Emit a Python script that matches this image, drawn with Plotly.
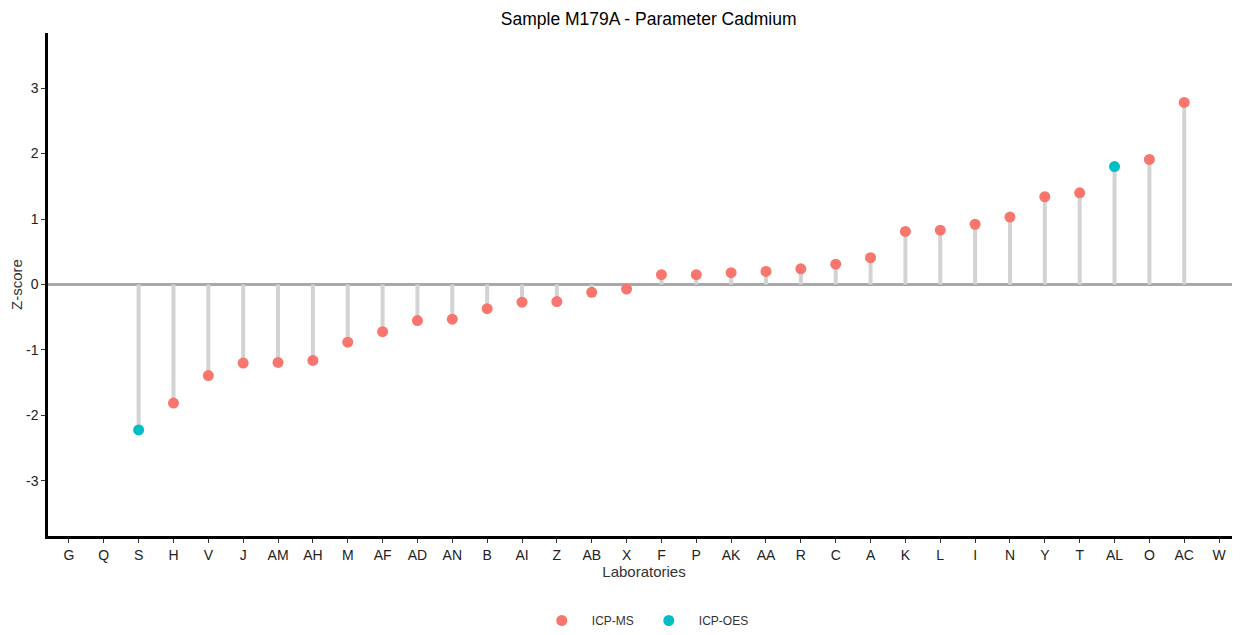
import plotly.graph_objects as go

# laboratories in plotting order (sorted by z-score, no-result labs included)
labs = ["G", "Q", "S", "H", "V", "J", "AM", "AH", "M", "AF", "AD", "AN", "B", "AI", "Z",
        "AB", "X", "F", "P", "AK", "AA", "R", "C", "A", "K", "L", "I", "N", "Y", "T",
        "AL", "O", "AC", "W"]
zscore = [None, None, -2.22, -1.81, -1.39, -1.20, -1.19, -1.16, -0.88, -0.72, -0.55, -0.53,
          -0.37, -0.27, -0.26, -0.12, -0.07, 0.15, 0.15, 0.18, 0.20, 0.24, 0.31, 0.41, 0.81,
          0.83, 0.92, 1.03, 1.34, 1.40, 1.80, 1.91, 2.78, None]
method = [None, None, "ICP-OES", "ICP-MS", "ICP-MS", "ICP-MS", "ICP-MS", "ICP-MS", "ICP-MS",
          "ICP-MS", "ICP-MS", "ICP-MS", "ICP-MS", "ICP-MS", "ICP-MS", "ICP-MS", "ICP-MS",
          "ICP-MS", "ICP-MS", "ICP-MS", "ICP-MS", "ICP-MS", "ICP-MS", "ICP-MS", "ICP-MS",
          "ICP-MS", "ICP-MS", "ICP-MS", "ICP-MS", "ICP-MS", "ICP-OES", "ICP-MS", "ICP-MS", None]
ytick_vals = [-3, -2, -1, 0, 1, 2, 3]
ytick_text = ["-3", "-2", "-1", "0", "1", "2", "3"]

colors = {"ICP-MS": "#F8766D", "ICP-OES": "#00BFC4"}

fig = go.Figure()

# stems
sx, sy = [], []
for lab, z in zip(labs, zscore):
    if z is None:
        continue
    sx += [lab, lab, None]
    sy += [0, z, None]
fig.add_trace(go.Scatter(x=sx, y=sy, mode="lines", line=dict(color="#D3D3D3", width=4),
                         showlegend=False, hoverinfo="skip"))

for m, col in colors.items():
    xs = [l for l, z, mm in zip(labs, zscore, method) if mm == m]
    ys = [z for z, mm in zip(zscore, method) if mm == m]
    fig.add_trace(go.Scatter(x=xs, y=ys, mode="markers", name=m,
                             marker=dict(color=col, size=11)))

# page body adds an 8px offset, so the figure is a bit smaller than the window
fig.update_layout(
    width=1232, height=627,
    paper_bgcolor="white", plot_bgcolor="white",
    font=dict(family="Liberation Sans, Arial, sans-serif", size=14, color="#333333"),
    title=dict(text="Sample M179A - Parameter Cadmium", x=0.52, xanchor="center",
               y=0.993, yanchor="top", font=dict(size=17.5, color="black")),
    margin=dict(l=40, r=0, t=25, b=98),
    showlegend=True,
    legend=dict(orientation="h", x=0.499, xanchor="center", y=-0.169, yanchor="middle",
                itemwidth=50, font=dict(size=12, color="#333333")),
)
fig.update_xaxes(
    type="category", categoryorder="array", categoryarray=labs, range=[-0.6, 33.6],
    showline=True, linecolor="black", linewidth=2.5, showgrid=False,
    ticks="outside", ticklen=4, tickcolor="#333333",
    title=dict(text="Laboratories", standoff=2, font=dict(size=15)),
    tickfont=dict(size=14, color="#222222"),
)
fig.update_yaxes(
    range=[-3.84, 3.84], tickvals=ytick_vals, ticktext=ytick_text,
    showline=True, linecolor="black", linewidth=2.5, showgrid=False,
    zeroline=True, zerolinecolor="#A9A9A9", zerolinewidth=2.5,
    ticks="outside", ticklen=4, tickcolor="#333333",
    title=dict(text="Z-score", standoff=7, font=dict(size=15)),
    tickfont=dict(size=14, color="#222222"),
)

fig.write_html("out.html")
